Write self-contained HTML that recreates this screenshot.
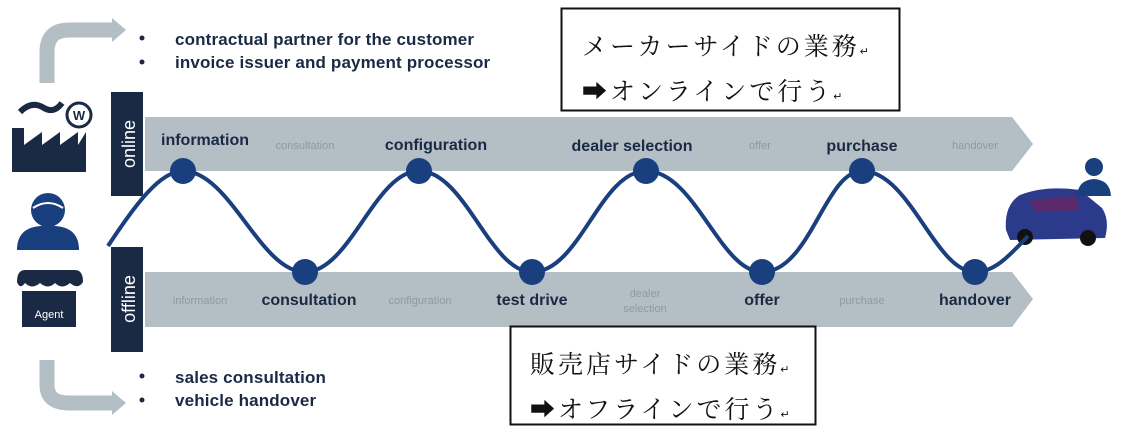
<!DOCTYPE html>
<html><head><meta charset="utf-8"><style>
html,body{margin:0;padding:0;background:#fff;}
svg{display:block;}
.b{font-family:"Liberation Sans",sans-serif;font-weight:bold;fill:#1b2a44;font-size:16px;}
.l{font-family:"Liberation Sans",sans-serif;fill:#8e9aa3;font-size:11px;}
.bl{font-family:"Liberation Sans",sans-serif;font-weight:bold;fill:#1b2a44;font-size:17px;letter-spacing:0.15px;}
.jp{font-family:"Liberation Serif","Noto Serif CJK SC",serif;font-size:25px;fill:#111;letter-spacing:3px;}
</style></head><body>
<svg width="1124" height="432" viewBox="0 0 1124 432" xmlns="http://www.w3.org/2000/svg">
<path d="M47 83 V52 Q47 30 69 30 H115" fill="none" stroke="#b3bec5" stroke-width="15"/>
<polygon points="112,18 126,30 112,42" fill="#b3bec5"/>
<path d="M47 360 V385 Q47 403 69 403 H115" fill="none" stroke="#b3bec5" stroke-width="15"/>
<polygon points="112,391 126,403 112,415" fill="#b3bec5"/>
<g class="bl">
<circle cx="142" cy="38" r="2.5" fill="#1b2a44"/><circle cx="142" cy="62" r="2.5" fill="#1b2a44"/>
<text x="175" y="45">contractual partner for the customer</text>
<text x="175" y="68">invoice issuer and payment processor</text>
<circle cx="142" cy="376" r="2.5" fill="#1b2a44"/><circle cx="142" cy="400" r="2.5" fill="#1b2a44"/>
<text x="175" y="383">sales consultation</text>
<text x="175" y="406">vehicle handover</text>
</g>
<polygon points="145,117 1012,117 1033,144 1012,171 145,171" fill="#b3bec5"/>
<polygon points="145,272 1012,272 1033,299 1012,327 145,327" fill="#b3bec5"/>
<rect x="111" y="92" width="32" height="104" fill="#1b2a44"/>
<rect x="111" y="247" width="32" height="105" fill="#1b2a44"/>
<text transform="translate(135,144) rotate(-90)" text-anchor="middle" font-family="Liberation Sans,sans-serif" font-size="18" fill="#fff">online</text>
<text transform="translate(135,299) rotate(-90)" text-anchor="middle" font-family="Liberation Sans,sans-serif" font-size="18" fill="#fff">offline</text>
<path d="M12 172 V128 H24 V145 L42 132 V145 L60 132 V145 L78 132 V145 L86 132 V172 Z" fill="#1b2a44"/>
<path d="M20 112 Q32 100 44 108 Q54 114 62 103" fill="none" stroke="#1b2a44" stroke-width="6"/>
<circle cx="79" cy="115" r="12" fill="#fff" stroke="#1b2a44" stroke-width="3"/>
<text x="79" y="120" text-anchor="middle" font-family="Liberation Sans,sans-serif" font-weight="bold" font-size="13" fill="#1b2a44">W</text>
<circle cx="48" cy="210" r="17" fill="#1a3f7f"/>
<path d="M33 208 Q48 198 63 208" fill="none" stroke="#fff" stroke-width="2"/>
<path d="M17 250 Q17 228 40 226 H56 Q79 228 79 250 Z" fill="#1a3f7f"/>
<path d="M17 282 Q17 270 25 270 H75 Q83 270 83 282 Q78 290 70 283 Q62 290 55 283 Q48 290 40 283 Q32 290 25 283 Q20 290 17 282Z" fill="#1b2a44"/>
<rect x="22" y="291" width="54" height="36" fill="#1b2a44"/>
<text x="49" y="318" text-anchor="middle" font-family="Liberation Sans,sans-serif" font-size="11" fill="#fff">Agent</text>
<path d="M1006 230 Q1004 205 1020 195 Q1045 185 1080 190 L1102 208 Q1110 220 1105 238 L1010 240 Z" fill="#2b3a8a"/>
<circle cx="1025" cy="237" r="8" fill="#111"/><circle cx="1088" cy="238" r="8" fill="#111"/>
<path d="M1030 200 L1075 196 L1080 210 L1035 212Z" fill="#5a2a6a"/>
<circle cx="1094" cy="167" r="9" fill="#1a3f7f"/>
<path d="M1077 196 Q1078 180 1094 179 Q1110 180 1111 196 Z" fill="#1a3f7f"/>
<path d="M108 246 C135 205 160 171 183 171 C230 171 260 272 305 272 C350 272 375 171 419 171 C465 171 490 272 532 272 C580 272 600 171 646 171 C695 171 720 272 762 272 C810 272 825 171 862 171 C910 171 935 272 975 272 C995 272 1010 255 1028 236" fill="none" stroke="#1a3f7f" stroke-width="4"/>
<g fill="#1a3f7f">
<circle cx="183" cy="171" r="13"/><circle cx="419" cy="171" r="13"/><circle cx="646" cy="171" r="13"/><circle cx="862" cy="171" r="13"/>
<circle cx="305" cy="272" r="13"/><circle cx="532" cy="272" r="13"/><circle cx="762" cy="272" r="13"/><circle cx="975" cy="272" r="13"/>
</g>
<text class="b" x="205" y="145" text-anchor="middle">information</text>
<text class="l" x="305" y="149" text-anchor="middle">consultation</text>
<text class="b" x="436" y="150" text-anchor="middle">configuration</text>
<text class="b" x="632" y="151" text-anchor="middle">dealer selection</text>
<text class="l" x="760" y="149" text-anchor="middle">offer</text>
<text class="b" x="862" y="151" text-anchor="middle">purchase</text>
<text class="l" x="975" y="149" text-anchor="middle">handover</text>
<text class="l" x="200" y="304" text-anchor="middle">information</text>
<text class="b" x="309" y="305" text-anchor="middle">consultation</text>
<text class="l" x="420" y="304" text-anchor="middle">configuration</text>
<text class="b" x="532" y="305" text-anchor="middle">test drive</text>
<text class="l" x="645" y="297" text-anchor="middle">dealer</text>
<text class="l" x="645" y="312" text-anchor="middle">selection</text>
<text class="b" x="762" y="305" text-anchor="middle">offer</text>
<text class="l" x="862" y="304" text-anchor="middle">purchase</text>
<text class="b" x="975" y="305" text-anchor="middle">handover</text>
<rect x="561.5" y="8.5" width="338" height="102" fill="#fff" stroke="#111" stroke-width="2"/>
<text class="jp" x="582" y="55">メーカーサイドの業務<tspan font-size="11">↵</tspan></text>
<text class="jp" x="582" y="100">➡オンラインで行う<tspan font-size="11">↵</tspan></text>
<rect x="510.5" y="326.5" width="305" height="98" fill="#fff" stroke="#111" stroke-width="2"/>
<text class="jp" x="530" y="373">販売店サイドの業務<tspan font-size="11">↵</tspan></text>
<text class="jp" x="530" y="418">➡オフラインで行う<tspan font-size="11">↵</tspan></text>
</svg>
</body></html>
